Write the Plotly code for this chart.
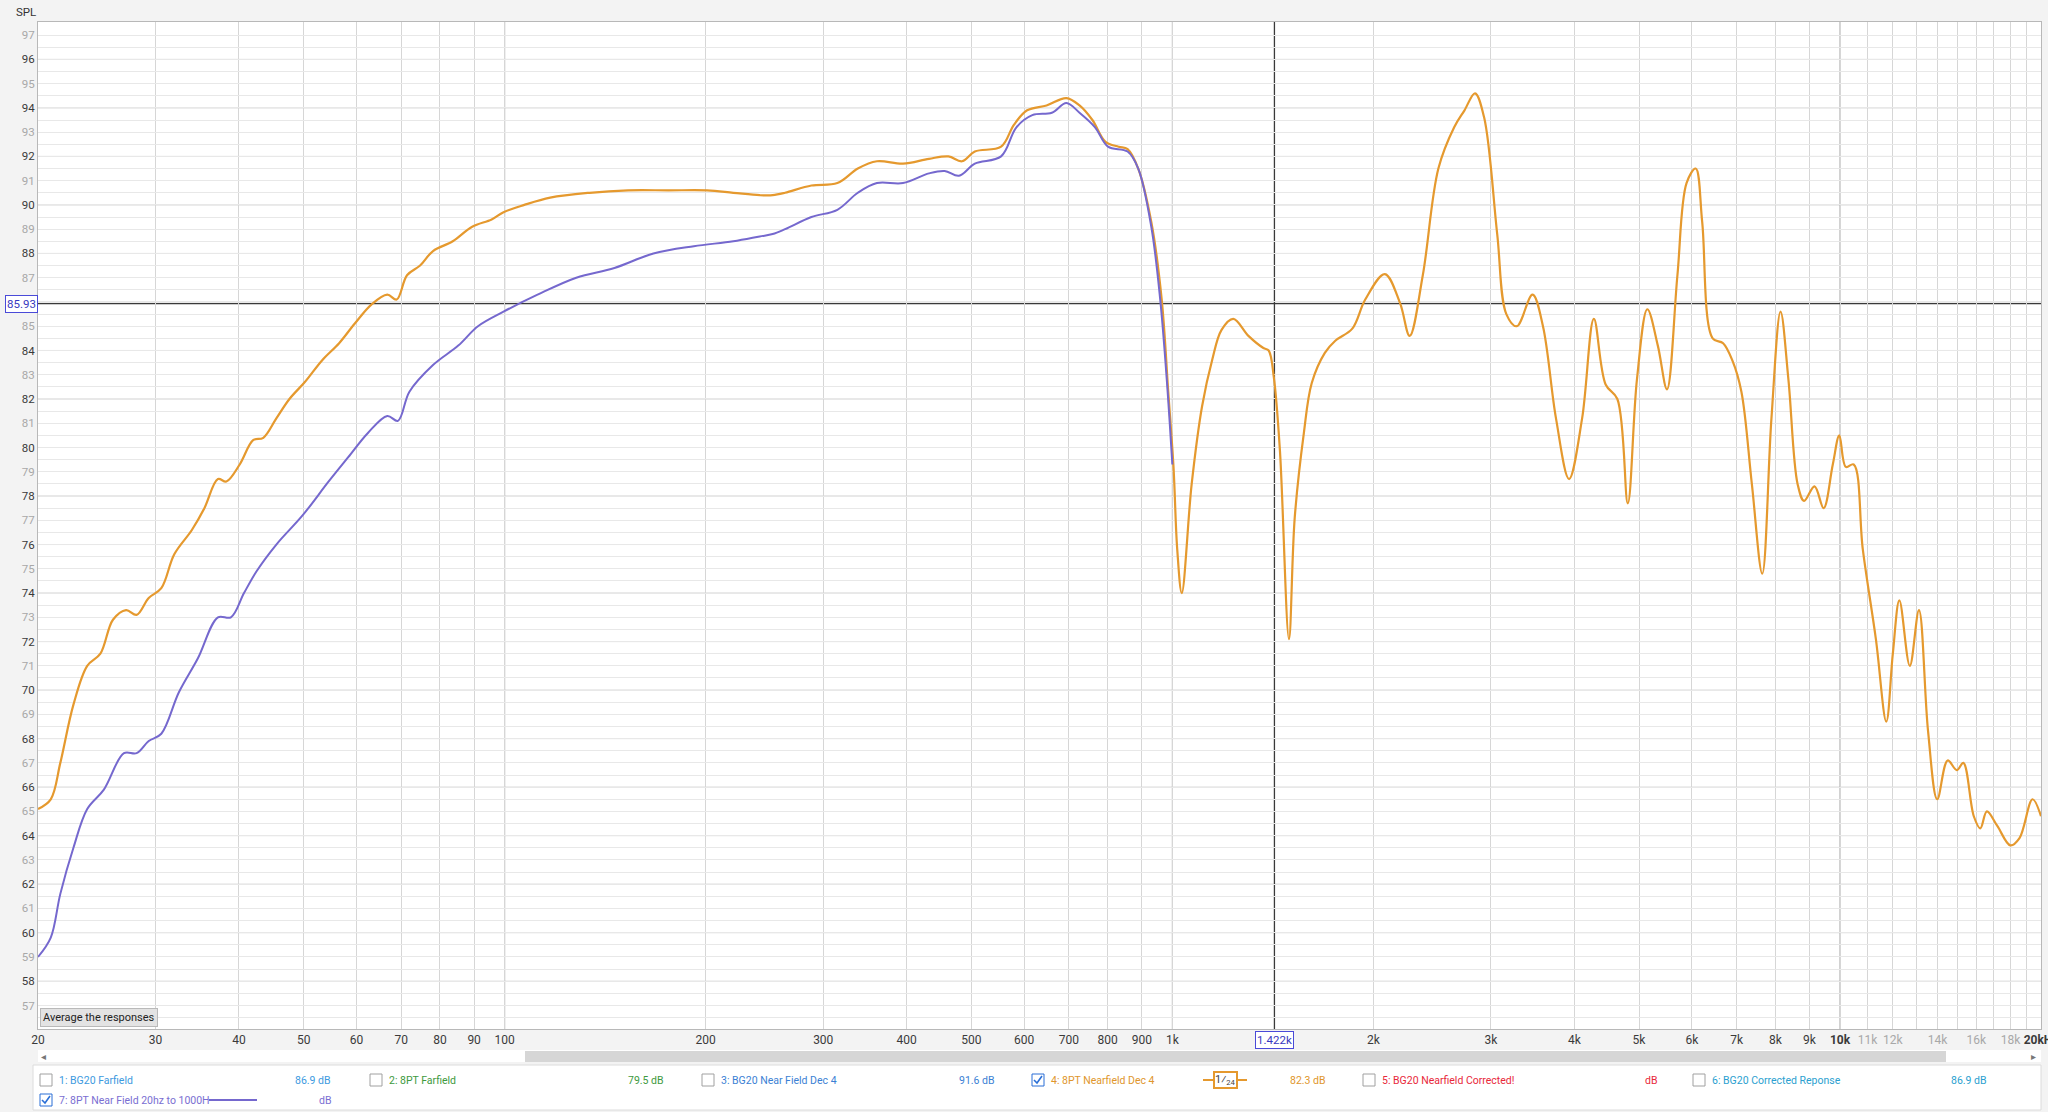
import math
import plotly.graph_objects as go

# ---------------- data ----------------
freq_orange = [20, 20.9, 21.6, 22.6, 23.7, 24.8, 25.9, 27.1, 28.1, 29.3,
               30.6, 32.0, 34.0, 35.5, 37.2, 38.3, 40.1, 42.0, 43.5, 45.5,
               47.6, 50.2, 53.3, 56.5, 59.6, 63.2, 66.7, 68.9, 71.4, 74.7,
               78.1, 83.6, 89.4, 95.6, 99.6, 107, 117, 134, 153, 176,
               201, 220, 241, 252, 263, 288, 315, 338, 361, 395,
               432, 462, 484, 506, 554, 579, 606, 648, 694, 726,
               759, 794, 831, 857, 889, 930, 964, 986, 1004, 1017,
               1033, 1069, 1108, 1147, 1185, 1234, 1300, 1369, 1394, 1419,
               1449, 1495, 1525, 1574, 1617, 1692, 1754, 1860, 1945, 2081,
               2193, 2267, 2372, 2503, 2643, 2739, 2840, 2931, 3066, 3164,
               3280, 3463, 3590, 3755, 3928, 4109, 4279, 4456, 4640, 4810,
               4964, 5146, 5335, 5506, 5708, 5890, 6079, 6217, 6445, 6682,
               6896, 7117, 7378, 7648, 7894, 8146, 8370, 8638, 8835, 9158,
               9451, 9754, 9976, 10203, 10483, 10818, 11317, 11731, 11998, 12272,
               12722, 13129, 13549, 13983, 14496, 14960, 15301, 15863, 16224, 16594,
               17202, 17995, 18571, 19427, 20000]
spl_orange = [65.1, 65.5, 67.0, 69.4, 71.0, 71.5, 72.9, 73.3, 73.1, 73.8,
              74.2, 75.6, 76.6, 77.5, 78.7, 78.6, 79.3, 80.3, 80.4, 81.2,
              82.0, 82.7, 83.6, 84.3, 85.1, 85.9, 86.3, 86.1, 87.1, 87.5,
              88.1, 88.5, 89.1, 89.4, 89.7, 90.0, 90.3, 90.5, 90.6, 90.6,
              90.6, 90.5, 90.4, 90.4, 90.5, 90.8, 90.9, 91.5, 91.8, 91.7,
              91.9, 92.0, 91.8, 92.2, 92.4, 93.3, 93.9, 94.1, 94.4, 94.1,
              93.5, 92.6, 92.4, 92.3, 91.5, 89.3, 86.1, 82.3, 79.2, 75.8,
              74.0, 78.5, 81.7, 83.6, 84.85, 85.3, 84.6, 84.1, 84.0, 82.9,
              79.9, 72.1, 77.1, 80.6, 82.65, 83.9, 84.4, 84.9, 86.1, 87.15,
              85.95, 84.6, 87.1, 91.5, 93.2, 93.9, 94.6, 93.6, 88.8, 85.5,
              85.0, 86.3, 85.0, 81.2, 78.7, 81.2, 85.3, 82.6, 82.0, 77.7,
              82.8, 85.7, 84.2, 82.4, 87.1, 90.9, 91.5, 89.3, 84.5, 84.3,
              83.6, 82.3, 78.5, 74.8, 81.2, 85.6, 82.8, 78.5, 77.8, 78.4,
              77.5, 79.3, 80.5, 79.2, 79.3, 75.8, 72.1, 68.7, 71.5, 73.7,
              71.0, 73.3, 68.3, 65.5, 67.1, 66.7, 67.0, 64.8, 64.3, 65.0,
              64.4, 63.6, 63.9, 65.5, 64.8]

freq_purple = [20, 20.9, 21.6, 22.6, 23.7, 25.1, 26.9, 28.1, 29.3, 30.6,
               32.5, 34.7, 37.2, 38.9, 40.7, 42.5, 45.5, 49.8, 54.5, 58.3,
               62.4, 66.7, 69.2, 72.0, 78.1, 85.2, 91.2, 99.6, 112, 128,
               146, 167, 192, 220, 241, 252, 263, 288, 315, 338,
               361, 395, 432, 456, 479, 506, 554, 584, 617, 660,
               694, 726, 766, 801, 857, 889, 930, 959, 981, 1000]
spl_purple = [59.0, 59.8, 61.6, 63.5, 65.1, 65.9, 67.4, 67.4, 67.9, 68.2,
              69.9, 71.3, 73.0, 73.0, 74.0, 74.9, 76.0, 77.2, 78.6, 79.6,
              80.6, 81.3, 81.1, 82.3, 83.4, 84.2, 85.0, 85.6, 86.3, 87.0,
              87.4, 88.0, 88.3, 88.5, 88.7, 88.8, 89.0, 89.5, 89.8, 90.5,
              90.9, 90.9, 91.3, 91.4, 91.2, 91.7, 92.0, 93.2, 93.7, 93.8,
              94.2, 93.8, 93.2, 92.4, 92.2, 91.5, 89.1, 86.1, 82.8, 79.3]

x_tick_vals = [20, 30, 40, 50, 60, 70, 80, 90, 100,
               200, 300, 400, 500, 600, 700, 800, 900, 1000,
               2000, 3000, 4000, 5000, 6000, 7000, 8000, 9000, 10000,
               11000, 12000, 13000, 14000, 15000, 16000, 17000, 18000, 19000, 20000]
x_tick_labels = ["20", "30", "40", "50", "60", "70", "80", "90", "100",
                 "200", "300", "400", "500", "600", "700", "800", "900", "1k",
                 "2k", "3k", "4k", "5k", "6k", "7k", "8k", "9k", "<b>10k</b>",
                 "11k", "12k", "", "14k", "", "16k", "", "18k", "", "<b>20kHz</b>"]
x_light_labels = ["11k", "12k", "14k", "16k", "18k"]
decade_lines = [100, 1000, 10000]

y_min, y_max = 56.03, 97.54
y_label_vals = list(range(57, 98))
y_hidden_labels = [86]   # covered by the cursor read-out box

cursor_freq = 1422
cursor_spl = 85.93
cursor_freq_text = "1.422k"
cursor_spl_text = "85.93"

legend_names = ["1: BG20 Farfield", "2: 8PT Farfield", "3: BG20 Near Field Dec 4",
                "4: 8PT Nearfield Dec 4", "5: BG20 Nearfield Corrected!",
                "6: BG20 Corrected Reponse", "7: 8PT Near Field 20hz to 1000H"]
legend_values = ["86.9 dB", "79.5 dB", "91.6 dB", "82.3 dB", "dB", "86.9 dB", "dB"]
legend_colors = ["#3d9ae0", "#3e9a3e", "#3b7fd4", "#e0962c", "#e8283a", "#2b9fd0", "#7a6ed2"]
legend_checked = [False, False, False, True, False, False, True]

ORANGE = "#E5992E"
PURPLE = "#7568CE"

# ---------------- layout helpers (page pixel -> paper) ----------------
W, H = 2048, 1112
L, R, T, B = 38, 2041, 22, 1029


def px(x):
    return (x - L) / (R - L)


def py(y):
    return (B - y) / (B - T)


FONT = "Roboto, Noto Sans, sans-serif"

fig = go.Figure()
fig.add_trace(go.Scatter(x=freq_orange, y=spl_orange, mode="lines",
                         line=dict(color=ORANGE, width=2.2, shape="spline", smoothing=1.0),
                         hoverinfo="skip", showlegend=False))
fig.add_trace(go.Scatter(x=freq_purple, y=spl_purple, mode="lines",
                         line=dict(color=PURPLE, width=2.0, shape="spline", smoothing=1.0),
                         hoverinfo="skip", showlegend=False))

# tick texts
xt = []
for lab in x_tick_labels:
    if lab in x_light_labels:
        xt.append('<span style="color:#a8a8a8">%s</span>' % lab)
    else:
        xt.append(lab)

y_vals, y_text = [], []
v = 56.5
while v <= 97.5:
    y_vals.append(v)
    if v == int(v) and int(v) not in y_hidden_labels:
        iv = int(v)
        if iv % 2 == 0:
            y_text.append(str(iv))
        else:
            y_text.append('<span style="color:#a8a8a8">%d</span>' % iv)
    else:
        y_text.append("")
    v += 0.5

fig.update_layout(
    width=W, height=H,
    margin=dict(l=L, r=W - R, t=T, b=H - B, autoexpand=False),
    paper_bgcolor="#f3f3f3", plot_bgcolor="#ffffff",
    font=dict(family=FONT, size=12, color="#3a3a3a"),
    xaxis=dict(type="log", range=[math.log10(20), math.log10(20000)],
               tickmode="array", tickvals=x_tick_vals, ticktext=xt,
               showgrid=True, gridcolor="#d6d6d6", gridwidth=1,
               zeroline=False, showline=True, linecolor="#b8b8b8", mirror=True,
               ticks="", tickfont=dict(size=12, color="#3a3a3a", family=FONT),
               ticklabeloverflow="allow", automargin=False, fixedrange=True),
    yaxis=dict(range=[y_min, y_max], tickmode="array", tickvals=y_vals, ticktext=y_text,
               showgrid=True, gridcolor="#e8e8e8", gridwidth=1,
               zeroline=False, showline=True, linecolor="#b8b8b8", mirror=True,
               ticks="", tickfont=dict(size=11.5, color="#3a3a3a", family=FONT),
               automargin=False, fixedrange=True),
)

shapes = []
# darker even-dB grid lines
for yv in y_label_vals:
    if yv % 2 == 0:
        shapes.append(dict(type="line", xref="paper", yref="y", x0=0, x1=1, y0=yv, y1=yv,
                           line=dict(color="#cfcfcf", width=1), layer="between"))
# decade lines
for f in decade_lines:
    shapes.append(dict(type="line", xref="x", yref="paper", x0=f, x1=f, y0=0, y1=1,
                       line=dict(color="#a4a4a4", width=1), layer="between"))
# cursor cross-hair
shapes.append(dict(type="line", xref="x", yref="paper", x0=cursor_freq, x1=cursor_freq, y0=0, y1=1,
                   line=dict(color="#3a3a3a", width=1.3), layer="between"))
shapes.append(dict(type="line", xref="paper", yref="y", x0=0, x1=1, y0=cursor_spl, y1=cursor_spl,
                   line=dict(color="#3a3a3a", width=1.3), layer="between"))

# scrollbar
shapes.append(dict(type="rect", xref="paper", yref="paper", x0=px(38), x1=px(2041),
                   y0=py(1062), y1=py(1050), fillcolor="#ffffff", line=dict(width=0), layer="above"))
shapes.append(dict(type="rect", xref="paper", yref="paper", x0=px(525), x1=px(1946),
                   y0=py(1062), y1=py(1051), fillcolor="#d6d6d6", line=dict(width=0), layer="above"))
# legend panel
shapes.append(dict(type="rect", xref="paper", yref="paper", x0=px(33), x1=px(2041),
                   y0=py(1110), y1=py(1065), fillcolor="#ffffff",
                   line=dict(color="#dcdcdc", width=1), layer="above"))

annotations = []


def note(text, x, y, xref="paper", yref="paper", xanchor="center", **kw):
    annotations.append(dict(text=text, x=x, y=y, xref=xref, yref=yref, xanchor=xanchor,
                            yanchor="middle", showarrow=False, **kw))


note("SPL", px(26), py(12), font=dict(size=11.5, color="#333333", family=FONT))
note("Average the responses", px(40), py(1017), xanchor="left",
     bgcolor="#e3e3e3", bordercolor="#b9b9b9", borderwidth=1, borderpad=2,
     font=dict(size=11, color="#222222", family=FONT))
note(cursor_spl_text, px(21), cursor_spl, yref="y", bgcolor="#ffffff", bordercolor="#4a4ad8",
     borderwidth=1, borderpad=1, font=dict(size=11.5, color="#3838c0", family=FONT))
note(cursor_freq_text, math.log10(cursor_freq), py(1040), xref="x", bgcolor="#ffffff",
     bordercolor="#4a4ad8", borderwidth=1, borderpad=1,
     font=dict(size=11.5, color="#3838c0", family=FONT))
note("◂", px(43), py(1056), font=dict(size=10, color="#777777", family="DejaVu Sans"))
note("▸", px(2033), py(1056), font=dict(size=10, color="#777777", family="DejaVu Sans"))

# legend items (layout positions in page pixels)
item_pos = [(46, 333, 1080), (376, 666, 1080), (708, 997, 1080), (1038, 1328, 1080),
            (1369, 1659, 1080), (1699, 1989, 1080), (46, 333, 1100)]
for name, val, col, chk, (cx, vx, cy) in zip(legend_names, legend_values, legend_colors,
                                              legend_checked, item_pos):
    box_col = "#2b6fd6" if chk else "#a0a0a0"
    shapes.append(dict(type="rect", xref="paper", yref="paper", x0=px(cx - 6), x1=px(cx + 6),
                       y0=py(cy + 6), y1=py(cy - 6), fillcolor="#ffffff",
                       line=dict(color=box_col, width=1), layer="above"))
    if chk:
        path = "M %f,%f L %f,%f L %f,%f" % (px(cx - 4), py(cy), px(cx - 1), py(cy + 3),
                                            px(cx + 4), py(cy - 4))
        shapes.append(dict(type="path", xref="paper", yref="paper", path=path,
                           line=dict(color="#2b6fd6", width=1.6), layer="above"))
    note(name, px(cx + 11), py(cy), xanchor="left", font=dict(size=10.5, color=col, family=FONT))
    note(val, px(vx), py(cy), xanchor="right", font=dict(size=10.5, color=col, family=FONT))

# line-style sample for item 7
shapes.append(dict(type="line", xref="paper", yref="paper", x0=px(209), x1=px(257),
                   y0=py(1100), y1=py(1100), line=dict(color=PURPLE, width=2), layer="above"))
# smoothing icon for item 4
shapes.append(dict(type="line", xref="paper", yref="paper", x0=px(1203), x1=px(1247),
                   y0=py(1080), y1=py(1080), line=dict(color=ORANGE, width=2), layer="above"))
note("1⁄<sub>24</sub>", px(1225), py(1080), bgcolor="#ffffff", bordercolor=ORANGE, borderwidth=2,
     borderpad=0, font=dict(size=11, color="#444444", family=FONT))

fig.update_layout(shapes=shapes, annotations=annotations)
fig.write_html("out.html", config={"displayModeBar": False},
               post_script="document.body.style.margin='0';"
                           "document.body.style.background='#f3f3f3';")
